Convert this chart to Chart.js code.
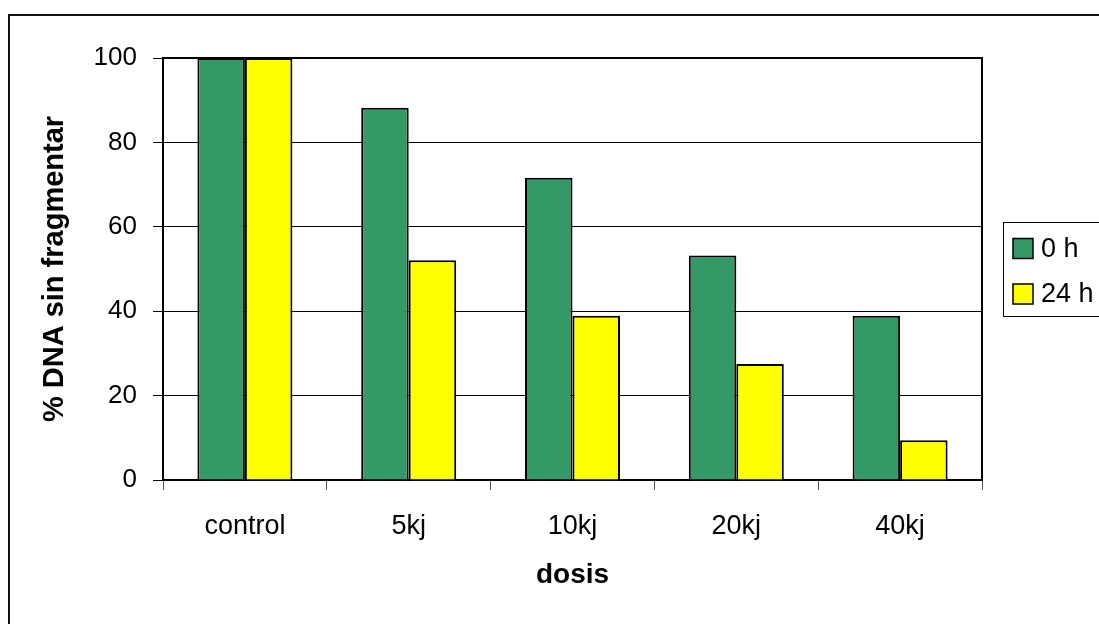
<!DOCTYPE html>
<html>
<head>
<meta charset="utf-8">
<script src="https://cdn.jsdelivr.net/npm/chart.js@4"></script>
<style>
  html, body { margin: 0; padding: 0; background: #fff; }
  #wrap { position: relative; width: 1099px; height: 624px; overflow: hidden; }
  #frame { position: absolute; left: 8px; top: 14px; width: 1200px; height: 700px;
           border: 2px solid #111; box-sizing: border-box; }
  #c { position: absolute; left: 0; top: 0; }
</style>
</head>
<body>
<div id="wrap">
  <div id="frame"></div>
  <canvas id="c" width="1099" height="624"></canvas>
</div>
<script>
// Categories, series and axis ticks
const categories = ['control', '5kj', '10kj', '20kj', '40kj'];
const seriesNames = ['0 h', '24 h'];
const values0h = [100, 88.2, 71.6, 53.2, 38.9];
const values24h = [100, 52.1, 38.9, 27.5, 9.4];
const yTicks = [0, 20, 40, 60, 80, 100];

const FONT = "'Liberation Sans', Arial, sans-serif";
const GREEN = '#339966';
const YELLOW = '#FFFF00';

// Frame around the plot area, drawn under the bars
const plotFrame = {
  id: 'plotFrame',
  beforeDatasetsDraw(chart) {
    const { ctx, chartArea: a } = chart;
    ctx.save();
    ctx.strokeStyle = '#000';
    ctx.lineWidth = 2;
    ctx.strokeRect(a.left, a.top, a.right - a.left, a.bottom - a.top);
    ctx.restore();
  }
};

// Boxed legend on the right of the plot
const boxLegend = {
  id: 'boxLegend',
  afterDraw(chart) {
    const { ctx, chartArea: a } = chart;
    const left = a.right + 21;
    const mid = (a.top + a.bottom) / 2;
    const top = mid - 47, bottom = mid + 47;
    ctx.save();
    ctx.fillStyle = '#fff';
    ctx.fillRect(left, top, 200, bottom - top);
    ctx.strokeStyle = '#000';
    ctx.lineWidth = 1;
    ctx.strokeRect(left + 0.5, top + 0.5, 200, bottom - top);
    ctx.font = '27px ' + FONT;
    ctx.textBaseline = 'middle';
    ctx.textAlign = 'left';
    chart.data.datasets.forEach((ds, i) => {
      const cy = top + 26.5 + i * 45.5;
      ctx.fillStyle = ds.backgroundColor;
      ctx.fillRect(left + 10, cy - 10, 20, 20);
      ctx.strokeStyle = '#000';
      ctx.lineWidth = 1.5;
      ctx.strokeRect(left + 10, cy - 10, 20, 20);
      ctx.fillStyle = '#000';
      ctx.fillText(ds.label, left + 38, cy + 1);
    });
    ctx.restore();
  }
};

new Chart(document.getElementById('c'), {
  type: 'bar',
  data: {
    labels: categories,
    datasets: [
      { label: seriesNames[0], data: values0h, backgroundColor: GREEN,
        borderColor: '#000', borderWidth: 2, borderSkipped: 'bottom' },
      { label: seriesNames[1], data: values24h, backgroundColor: YELLOW,
        borderColor: '#000', borderWidth: 2, borderSkipped: 'bottom' }
    ]
  },
  options: {
    responsive: false,
    animation: false,
    events: [],
    layout: { padding: { left: 0, right: 117, top: 58, bottom: 0 } },
    datasets: { bar: { categoryPercentage: 0.58, barPercentage: 1.0 } },
    plugins: { legend: { display: false }, tooltip: { enabled: false } },
    scales: {
      x: {
        offset: true,
        grid: { drawOnChartArea: false, drawTicks: true, tickLength: 10,
                color: '#555', lineWidth: 1, offset: true },
        border: { display: true, color: '#000', width: 2 },
        ticks: { color: '#000', font: { family: FONT, size: 27 }, padding: 20,
                 maxRotation: 0, autoSkip: false },
        title: { display: true, text: 'dosis', color: '#000',
                 font: { family: FONT, size: 28, weight: 'bold' },
                 padding: { top: 0, bottom: 32 } },
        afterFit(scale) { scale.height = 144; }
      },
      y: {
        min: 0, max: 100,
        afterBuildTicks(scale) { scale.ticks = yTicks.map(v => ({ value: v })); },
        grid: { color: '#000', lineWidth: 1, drawTicks: true, tickLength: 10 },
        border: { display: true, color: '#000', width: 2 },
        ticks: { color: '#000', font: { family: FONT, size: 26 }, padding: 16 },
        title: { display: true, text: '% DNA sin fragmentar', color: '#000',
                 font: { family: FONT, size: 29, weight: 'bold' },
                 padding: { top: 38, bottom: 0 } },
        afterFit(scale) { scale.width = 163; }
      }
    }
  },
  plugins: [plotFrame, boxLegend]
});
</script>
</body>
</html>
